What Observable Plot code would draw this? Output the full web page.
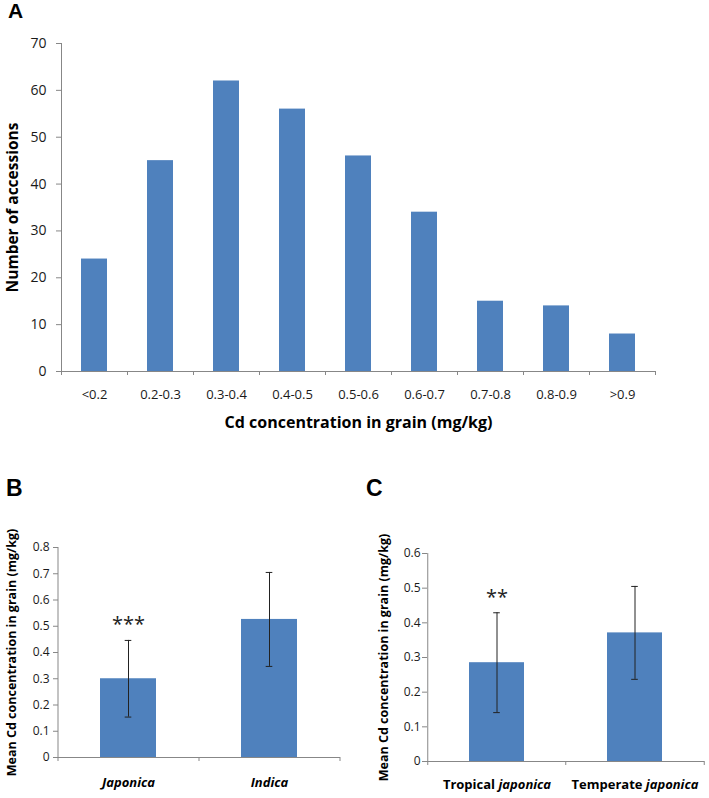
<!DOCTYPE html>
<html>
<head>
<meta charset="utf-8">
<script src="https://cdn.jsdelivr.net/npm/d3@7"></script>
<script src="https://cdn.jsdelivr.net/npm/@observablehq/plot@0.6"></script>
<style>
  body { margin: 0; background: #fff; }
  #wrap { position: relative; width: 709px; height: 798px; overflow: hidden; }
  .panel { position: absolute; }
  .tag { position: absolute; font-family: "Liberation Sans", Arial, sans-serif; font-weight: bold; line-height: 1; color: #000; }
  g[aria-label="y-axis label"], g[aria-label="y-axis label"] text,
  g[aria-label="x-axis label"], g[aria-label="x-axis label"] text { font-weight: bold; fill: #000; }
  #pA g[aria-label="y-axis label"] text { font-size: 15.5px; }
  #pA g[aria-label="x-axis label"] text { font-size: 16px; }
  #pB g[aria-label="y-axis label"] text, #pC g[aria-label="y-axis label"] text { font-size: 12.5px; }
</style>
</head>
<body>
<div id="wrap"></div>
<script>
// ---------- data ----------
const histBins   = ["<0.2", "0.2-0.3", "0.3-0.4", "0.4-0.5", "0.5-0.6", "0.6-0.7", "0.7-0.8", "0.8-0.9", ">0.9"];
const histCounts = [24, 45, 62, 56, 46, 34, 15, 14, 8];
const yTicksA    = [0, 10, 20, 30, 40, 50, 60, 70];

const groupsB = ["Japonica", "Indica"];
const meansB  = [0.300, 0.526];
const sdB     = [0.146, 0.179];
const sigB    = ["***", ""];
const yTicksB = [0, 0.1, 0.2, 0.3, 0.4, 0.5, 0.6, 0.7, 0.8];

const groupsC = ["Tropical japonica", "Temperate japonica"];
const meansC  = [0.285, 0.371];
const sdC     = [0.144, 0.134];
const sigC    = ["**", ""];
const yTicksC = [0, 0.1, 0.2, 0.3, 0.4, 0.5, 0.6];

const yTitleA = "Number of accessions";
const xTitleA = "Cd concentration in grain (mg/kg)";
const yTitleBC = "Mean Cd concentration in grain (mg/kg)";

// ---------- style ----------
const BAR = "#4F81BD";
const AXIS = "#878787";
const TXT = "#1a1a1a";
const FONT = "'Open Sans', 'Noto Sans', sans-serif";
const wrap = document.getElementById("wrap");
const fmt1 = d => d === 0 ? "0" : d3.format(".1f")(d);

function stripArrows(svg) {
  svg.querySelectorAll('g[aria-label$="axis label"] text').forEach(t => {
    t.textContent = t.textContent.replace(/\s*[↑↓←→]\s*/g, "").trim();
  });
}
function place(node, id, left, top) {
  stripArrows(node);
  const div = document.createElement("div");
  div.className = "panel"; div.id = id;
  div.style.left = left + "px"; div.style.top = top + "px";
  div.appendChild(node); wrap.appendChild(div);
}
function tag(t, left, top, size) {
  const d = document.createElement("div");
  d.className = "tag"; d.textContent = t;
  d.style.left = left + "px"; d.style.top = top + "px"; d.style.fontSize = size + "px";
  wrap.appendChild(d);
}

// ---------- Panel A ----------
{
  const W = 709, H = 450, m = {top: 43, right: 54, bottom: 79, left: 61};
  const step = (W - m.left - m.right) / histBins.length;
  const data = histBins.map((b, i) => ({bin: b, count: histCounts[i]}));
  const svg = Plot.plot({
    width: W, height: H,
    marginTop: m.top, marginRight: m.right, marginBottom: m.bottom, marginLeft: m.left,
    style: {fontFamily: FONT, color: TXT, background: "transparent"},
    x: {domain: histBins, paddingInner: 0.6, paddingOuter: 0.3, label: null},
    y: {domain: [0, 70], label: null},
    marks: [
      Plot.barY(data, {x: "bin", y: "count", fill: BAR}),
      Plot.ruleY([0], {stroke: AXIS}),
      Plot.ruleX([histBins[0]], {y1: 0, y2: 70, dx: -step / 2, stroke: AXIS}),
      Plot.axisY({ticks: yTicksA, tickSize: 5, tickPadding: 10, stroke: AXIS, fill: TXT, fontSize: 14,
                  label: yTitleA, labelAnchor: "center", labelOffset: 55, labelArrow: "none"}),
      Plot.axisX({tickSize: 4, dx: -step / 2, stroke: AXIS, tickFormat: () => "", label: null}),
      Plot.axisX([histBins[histBins.length - 1]], {tickSize: 4, dx: step / 2, stroke: AXIS, tickFormat: () => "", label: null}),
      Plot.axisX({tickSize: 0, tickPadding: 18, fill: TXT, fontSize: 13,
                  label: xTitleA, labelAnchor: "center", labelOffset: 56, labelArrow: "none"})
    ]
  });
  place(svg, "pA", 0, 0);
}

// ---------- Panels B and C ----------
function barPanel(id, left, top, W, H, m, groups, means, sds, sig, yTicks, yMax, opt) {
  const step = (W - m.left - m.right) / groups.length;
  const bw = step * 0.4;
  const capInset = (bw - 7) / 2;
  const data = groups.map((g, i) => ({g, mean: means[i], sd: sds[i], sig: sig[i]}));
  const svg = Plot.plot({
    width: W, height: H,
    marginTop: m.top, marginRight: m.right, marginBottom: m.bottom, marginLeft: m.left,
    style: {fontFamily: FONT, color: TXT, background: "transparent"},
    x: {domain: groups, paddingInner: 0.6, paddingOuter: 0.3, label: null},
    y: {domain: [0, yMax], label: null},
    marks: [
      Plot.barY(data, {x: "g", y: "mean", fill: BAR}),
      Plot.ruleX(data, {x: "g", y1: d => d.mean - d.sd, y2: d => d.mean + d.sd, stroke: "#222", strokeWidth: 1}),
      Plot.tickY(data, {x: "g", y: d => d.mean - d.sd, stroke: "#222", insetLeft: capInset, insetRight: capInset}),
      Plot.tickY(data, {x: "g", y: d => d.mean + d.sd, stroke: "#222", insetLeft: capInset, insetRight: capInset}),
      Plot.text(data, {x: "g", y: d => d.mean + d.sd, text: "sig", dy: opt.starDy, fontSize: 20, lineAnchor: "middle", fill: "#222"}),
      Plot.ruleY([0], {stroke: AXIS}),
      Plot.ruleX([groups[0]], {y1: 0, y2: yMax, dx: -step / 2, stroke: AXIS}),
      Plot.axisY({ticks: yTicks, tickFormat: fmt1, tickSize: 5, tickPadding: opt.yPad, stroke: AXIS, fill: TXT, fontSize: 12,
                  label: null}),
      Plot.axisY({ticks: [], tickSize: 0, dy: opt.labelDy,
                  label: yTitleBC, labelAnchor: "center", labelOffset: opt.labelOffset, labelArrow: "none"}),
      Plot.axisX({tickSize: 4, dx: -step / 2, stroke: AXIS, tickFormat: () => "", label: null}),
      Plot.axisX([groups[groups.length - 1]], {tickSize: 4, dx: step / 2, stroke: AXIS, tickFormat: () => "", label: null}),
      Plot.axisX({tickSize: 0, tickPadding: opt.xPad, fill: "#000", fontSize: 13, fontWeight: "bold",
                  fontStyle: opt.italicAll ? "italic" : "normal", label: null})
    ]
  });
  if (!opt.italicAll) {
    const ns = "http://www.w3.org/2000/svg";
    svg.querySelectorAll('g[aria-label="x-axis tick label"] text').forEach(t => {
      const s = t.textContent, k = s.indexOf(" ");
      if (k > 0) {
        t.textContent = "";
        const a = document.createElementNS(ns, "tspan"); a.textContent = s.slice(0, k + 1);
        const b = document.createElementNS(ns, "tspan"); b.textContent = s.slice(k + 1);
        b.setAttribute("font-style", "italic");
        t.append(a, b);
      }
    });
  }
  place(svg, id, left, top);
}

barPanel("pB", 0, 440, 355, 358, {top: 107, right: 15, bottom: 41, left: 58},
  groupsB, meansB, sdB, sigB, yTicksB, 0.8, {starDy: -16, yPad: 4, xPad: 20, labelOffset: 51, labelDy: 6, italicAll: true});
barPanel("pC", 355, 440, 354, 358, {top: 113, right: 5, bottom: 37, left: 72},
  groupsC, meansC, sdC, sigC, yTicksC, 0.6, {starDy: -15, yPad: 2, xPad: 18, labelOffset: 48, labelDy: 5, italicAll: false});

tag("A", 8, 0, 21);
tag("B", 6, 477, 23);
tag("C", 366, 477, 23);
</script>
</body>
</html>
